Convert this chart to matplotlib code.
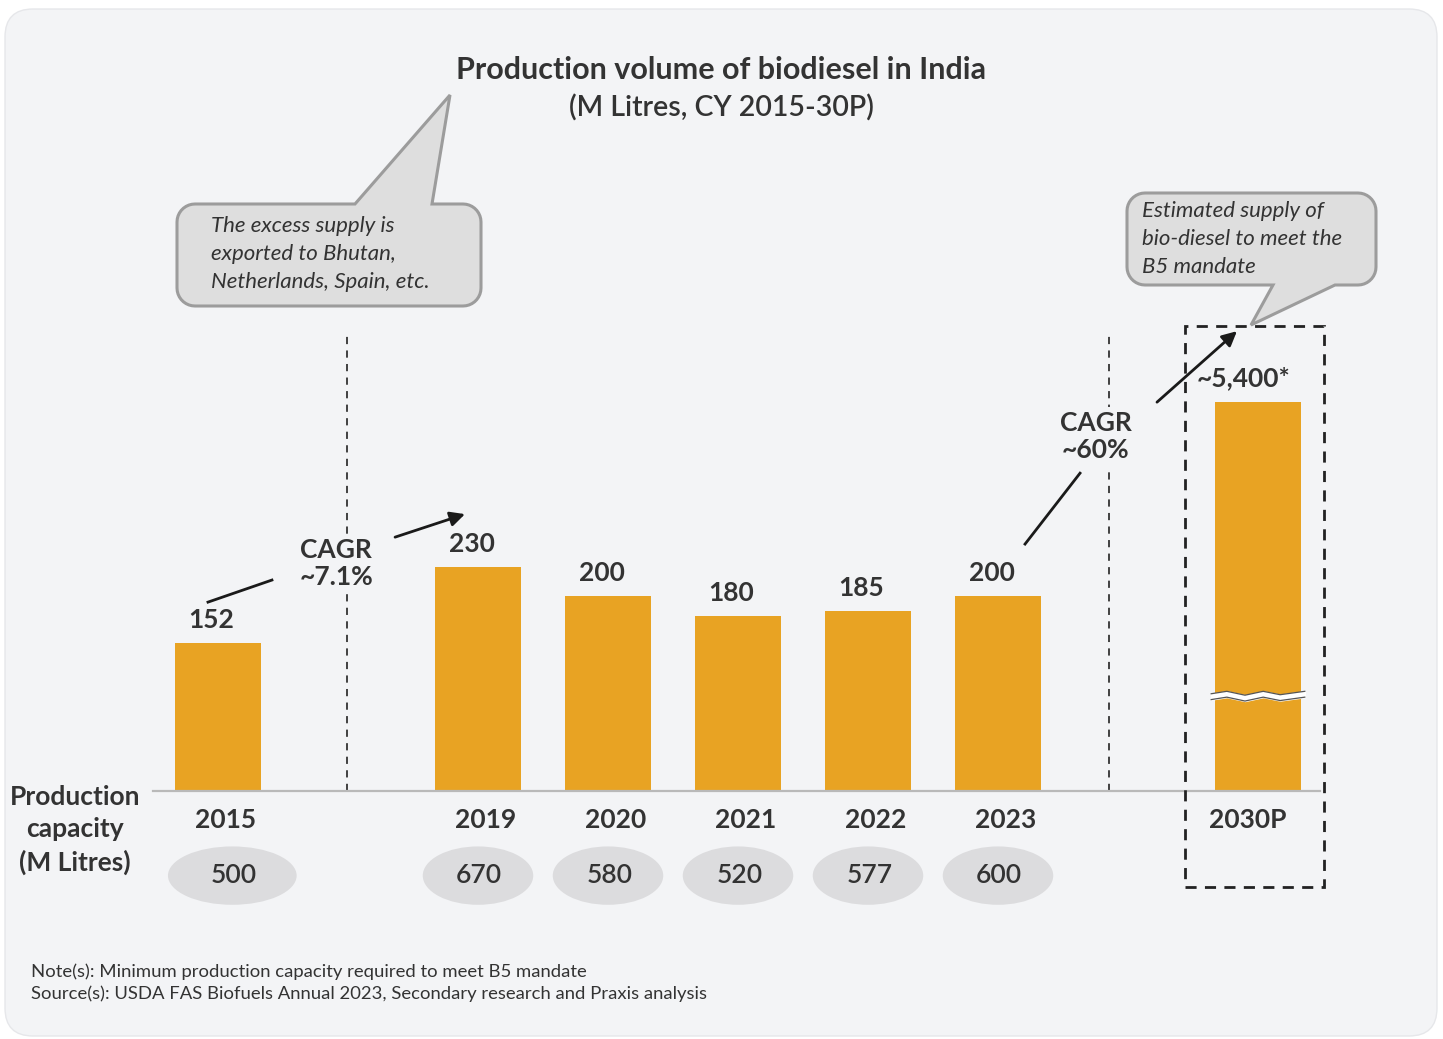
import matplotlib
matplotlib.use("Agg")
import matplotlib.pyplot as plt
from matplotlib.patches import FancyBboxPatch, Ellipse, Rectangle, Polygon
import numpy as np

plt.rcParams['font.family'] = ['Lato', 'DejaVu Sans']

# ---- data
years = ["2015", "2019", "2020", "2021", "2022", "2023", "2030P"]
volume = [152, 230, 200, 180, 185, 200, 5400]
volume_labels = ["152", "230", "200", "180", "185", "200", "~5,400*"]
capacity = [500, 670, 580, 520, 577, 600]
cagr_labels = ["CAGR\n~7.1%", "CAGR\n~60%"]
note_left = "The excess supply is\nexported to Bhutan,\nNetherlands, Spain, etc."
note_right = "Estimated supply of\nbio-diesel to meet the\nB5 mandate"

# ---- layout
slots = np.array([0, 2, 3, 4, 5, 6, 8])   # gap between 2015/2019 and 2023/2030P
cut = 5000                                 # span hidden by the break on the 2030P bar
drawn = [v - cut if y == "2030P" else v for y, v in zip(years, volume)]

BAR = "#E8A323"
TXT = "#333333"
CARD = "#f3f4f6"

W, H = 1443, 1039
fig = plt.figure(figsize=(W / 100, H / 100), dpi=100)
fig.patch.set_facecolor("white")

# pixel-space layer for the card, titles, callouts and footnotes
bg = fig.add_axes([0, 0, 1, 1], zorder=0)
bg.set_xlim(0, W)
bg.set_ylim(H, 0)
bg.axis("off")
bg.add_patch(FancyBboxPatch((5, 9), 1432, 1027, boxstyle="round,pad=0,rounding_size=28",
                            fc=CARD, ec="#e6e7ea", lw=1))

bg.text(721, 70, "Production volume of biodiesel in India", ha="center", va="center",
        fontsize=22, weight="bold", color=TXT)
bg.text(721, 108, "(M Litres, CY 2015-30P)", ha="center", va="center",
        fontsize=20.5, weight="semibold", color=TXT)

bg.text(75, 830, "Production\ncapacity\n(M Litres)", ha="center", va="center",
        fontsize=19, weight="bold", color=TXT, linespacing=1.42)

bg.text(31, 972, "Note(s): Minimum production capacity required to meet B5 mandate",
        ha="left", va="center", fontsize=13.3, color=TXT)
bg.text(31, 994, "Source(s): USDA FAS Biofuels Annual 2023, Secondary research and Praxis analysis",
        ha="left", va="center", fontsize=13.3, color=TXT)


def callout(x0, y0, x1, y1, r, side, base, tip, n=10):
    # rounded box with a pointed tail, y grows downward here
    pts = []

    def arc(cx, cy, a0, a1):
        for t in np.linspace(a0, a1, n):
            pts.append((cx + r * np.cos(t), cy + r * np.sin(t)))

    arc(x0 + r, y0 + r, np.pi, 1.5 * np.pi)
    if side == "top":
        pts.extend([(base[0], y0), tip, (base[1], y0)])
    arc(x1 - r, y0 + r, 1.5 * np.pi, 2 * np.pi)
    arc(x1 - r, y1 - r, 0, 0.5 * np.pi)
    if side == "bottom":
        pts.extend([(base[1], y1), tip, (base[0], y1)])
    arc(x0 + r, y1 - r, 0.5 * np.pi, np.pi)
    bg.add_patch(Polygon(pts, closed=True, fc="#dedede", ec="#9c9c9c", lw=2.2, zorder=3))


callout(177, 204, 481, 306, 18, "top", (355, 432), (450, 95))
bg.text(211, 254, note_left, ha="left", va="center", fontsize=16, style="italic",
        color=TXT, linespacing=1.5, zorder=4)
callout(1127, 193, 1376, 285, 18, "bottom", (1273, 1335), (1251, 325))
bg.text(1142, 239, note_right, ha="left", va="center", fontsize=16, style="italic",
        color=TXT, linespacing=1.5, zorder=4)

# ---- bar chart (1 x-unit = 130 px, baseline at y = 791 px)
ax = fig.add_axes([140 / W, (H - 791) / H, 1196 / W, 461 / H], zorder=1)
ax.set_xlim(-0.6, 8.6)
ax.set_ylim(0, 474)
ax.patch.set_visible(False)
ax.axis("off")

ax.bar(slots, drawn, width=0.665, color=BAR, zorder=2)
ax.plot([-0.5, 8.48], [0, 0], color="#b9b9b9", lw=1.6, zorder=3, clip_on=False)

for s, d, lab, yr in zip(slots, drawn, volume_labels, years):
    dx = -0.11 if yr == "2030P" else -0.05
    ax.text(s + dx, d + 24, lab, ha="center", va="center", fontsize=19,
            weight="bold", color=TXT, clip_on=False)
    ax.text(s + (-0.08 if yr == "2030P" else 0.06), -30, yr, ha="center", va="center",
            fontsize=19, weight="bold", color=TXT, clip_on=False)

for s, c, yr in zip(slots, capacity, years):
    w = 0.99 if yr == "2015" else 0.85
    dx = 0.11 if yr == "2015" else 0.0
    ax.add_patch(Ellipse((s + dx, -87), w, 60, fc="#dcdcde", ec="none", clip_on=False))
    ax.text(s + dx + 0.01, -87, str(c), ha="center", va="center", fontsize=19,
            weight="semibold", color=TXT, clip_on=False)

# break mark across the 2030P bar
s = slots[-1]
brk = 97
xs = s + np.array([-0.36, -0.24, -0.1, 0.04, 0.17, 0.36])
wave = np.array([0.0, 2.5, -1.5, 2.5, -1.0, 2.5])
ax.fill_between(xs, brk - 3 + wave, brk + 3 + wave, color="white", zorder=4, clip_on=False)
ax.plot(xs, brk + 3 + wave, color="#555555", lw=0.9, zorder=5, clip_on=False)
ax.plot(xs, brk - 3 + wave, color="#555555", lw=0.9, zorder=5, clip_on=False)

# dashed separators and the dashed frame around the projection
for xv in (0.992, 6.854):
    ax.plot([xv, xv], [0, 471], color="#333333", lw=1.3, dashes=(4, 3.5), zorder=1,
            clip_on=False)
ax.add_patch(Rectangle((7.44, -98.7), 1.07, 576.8, fill=False, ec="#222222", lw=2,
                       ls=(0, (4, 3)), zorder=3, clip_on=False))

# CAGR labels with arrows
ax.text(0.91, 234, cagr_labels[0], ha="center", va="center", fontsize=19, weight="bold",
        color=TXT, linespacing=1.15, zorder=3,
        bbox=dict(fc=CARD, ec="none", pad=3))
ax.text(6.75, 364, cagr_labels[1], ha="center", va="center", fontsize=19, weight="bold",
        color=TXT, linespacing=1.15, zorder=3,
        bbox=dict(fc=CARD, ec="none", pad=3))

ax.plot([-0.077, 0.415], [194.2, 216.9], color="#1a1a1a", lw=2, clip_on=False)
ax.annotate("", xy=(1.9, 284.7), xytext=(1.362, 261.0), annotation_clip=False,
            arrowprops=dict(arrowstyle="-|>", color="#1a1a1a", lw=2, mutation_scale=22,
                            shrinkA=0, shrinkB=0))
ax.plot([6.208, 6.631], [253.9, 326.8], color="#1a1a1a", lw=2, clip_on=False)
ax.annotate("", xy=(7.838, 472.8), xytext=(7.223, 399.8), annotation_clip=False,
            arrowprops=dict(arrowstyle="-|>", color="#1a1a1a", lw=2, mutation_scale=22,
                            shrinkA=0, shrinkB=0))

fig.savefig("out.png", dpi=100, facecolor="white")
